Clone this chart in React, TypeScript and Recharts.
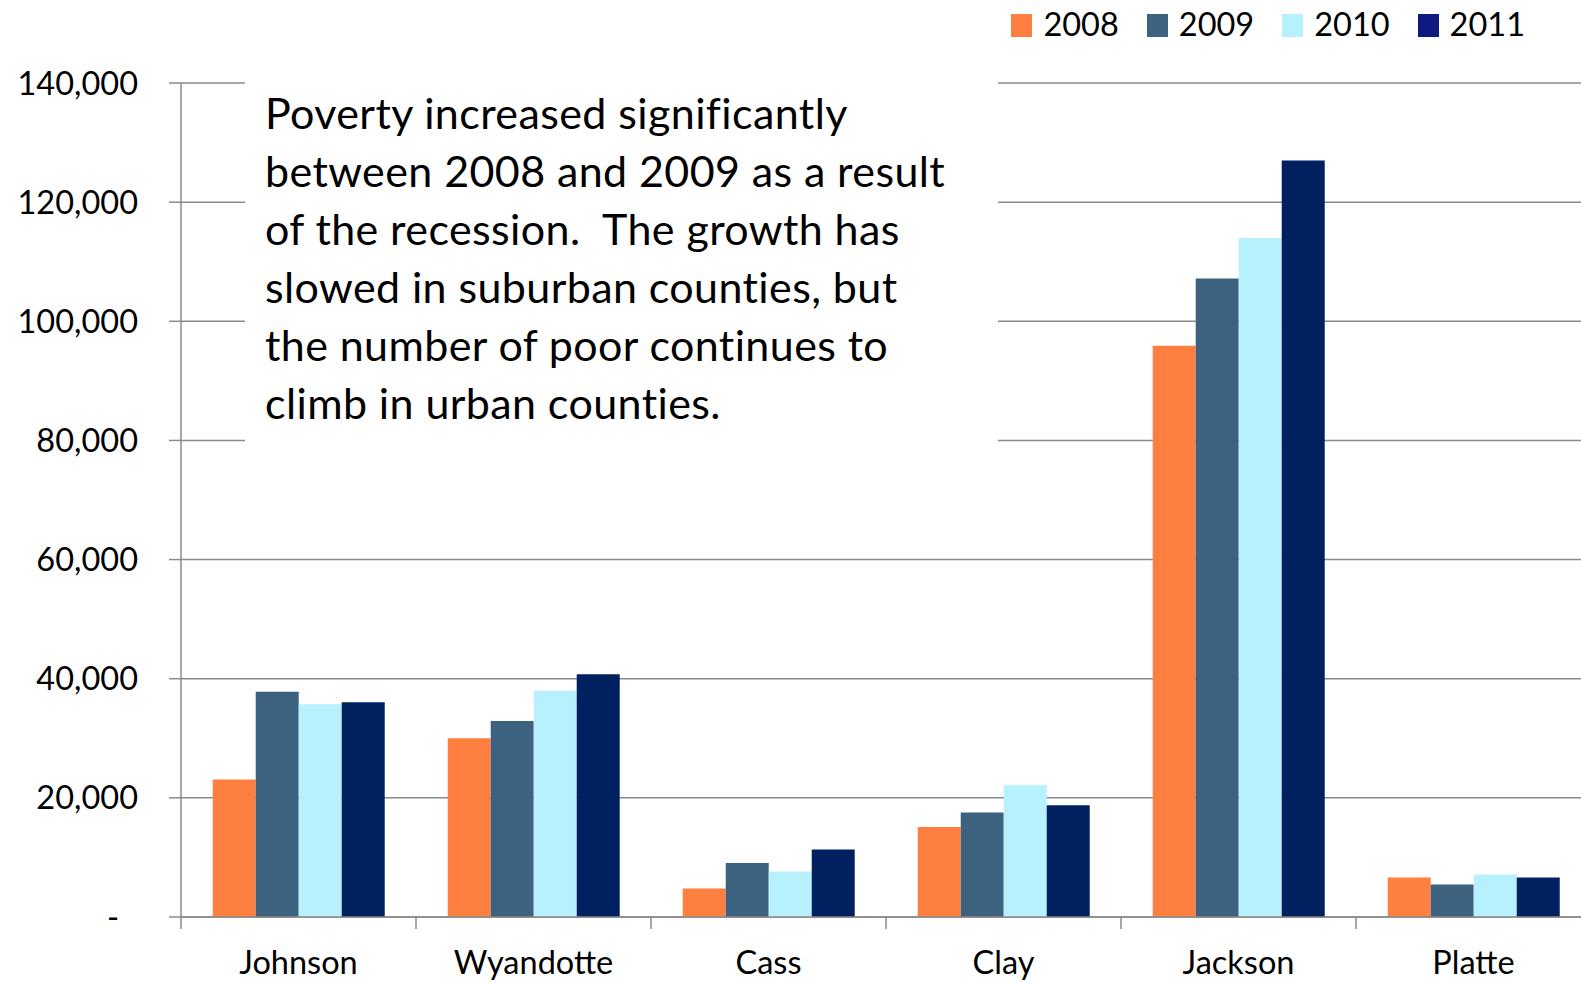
import React from 'react';
import { BarChart, Bar, XAxis, YAxis, CartesianGrid, Legend } from 'recharts';

const counties = ['Johnson', 'Wyandotte', 'Cass', 'Clay', 'Jackson', 'Platte'];
const v2008 = [23100, 30000, 4800, 15100, 95900, 6650];
const v2009 = [37800, 32900, 9050, 17550, 107200, 5450];
const v2010 = [35700, 38000, 7650, 22100, 114000, 7150];
const v2011 = [36050, 40750, 11350, 18750, 127000, 6650];
const years = ['2008', '2009', '2010', '2011'];
const yTicks = [0, 20000, 40000, 60000, 80000, 100000, 120000, 140000];
const noteLines = [
  'Poverty increased significantly',
  'between 2008 and 2009 as a result',
  'of the recession.  The growth has',
  'slowed in suburban counties, but',
  'the number of poor continues to',
  'climb in urban counties.',
];

const barColors = ['#FF7F41', '#3D6280', '#B7F1FD', '#00205F'];
const legendColors = ['#FF7F41', '#3D6280', '#B7F1FD', '#0F1A80'];
const FONT = "Lato, 'Open Sans', sans-serif";
const GRID = '#8a8a8a';
const X_TICK_MARGIN = 34;
const X_TICK_LEN = 12;

const data = counties.map((c, i) => ({
  county: c,
  '2008': v2008[i],
  '2009': v2009[i],
  '2010': v2010[i],
  '2011': v2011[i],
}));

const YTick = (props: any) => {
  const { x, y, payload } = props;
  const isZero = payload.value === 0;
  const label = isZero ? '-' : Number(payload.value).toLocaleString('en-US');
  return (
    <text
      x={isZero ? x - 19 : x}
      y={y}
      dy="0.355em"
      textAnchor="end"
      fill="#000"
      fontFamily={FONT}
      fontSize={32.5}
    >
      {label}
    </text>
  );
};

const XTick = (props: any) => {
  const { x, y, payload, index, visibleTicksCount } = props;
  const half = Number(payload?.offset) || 0;
  const axisY = y - X_TICK_MARGIN;
  const isLast = index === (visibleTicksCount ?? counties.length) - 1;
  return (
    <g>
      {half > 0 && (
        <line
          x1={x - half}
          x2={x - half}
          y1={axisY}
          y2={axisY + X_TICK_LEN}
          stroke={GRID}
          strokeWidth={1.5}
        />
      )}
      {half > 0 && isLast && (
        <line
          x1={x + half}
          x2={x + half}
          y1={axisY}
          y2={axisY + X_TICK_LEN}
          stroke={GRID}
          strokeWidth={1.5}
        />
      )}
      <text
        x={x}
        y={y}
        dy="0.71em"
        textAnchor="middle"
        fill="#000"
        fontFamily={FONT}
        fontSize={32.5}
      >
        {payload.value}
      </text>
    </g>
  );
};

const LegendContent = () => (
  <div
    style={{
      height: 83,
      display: 'flex',
      justifyContent: 'flex-end',
      alignItems: 'flex-start',
      paddingRight: 66,
      paddingTop: 7.5,
      boxSizing: 'border-box',
      fontFamily: FONT,
      fontSize: 32.5,
      color: '#000',
    }}
  >
    {years.map((y, i) => (
      <div
        key={y}
        style={{ display: 'flex', alignItems: 'flex-start', marginLeft: i ? 28 : 0 }}
      >
        <span
          style={{
            display: 'inline-block',
            width: 21,
            height: 23,
            marginTop: 6.5,
            marginRight: 11,
            background: legendColors[i],
          }}
        />
        <span style={{ lineHeight: 1 }}>{y}</span>
      </div>
    ))}
  </div>
);

export default function App() {
  return (
    <div
      style={{
        position: 'absolute',
        left: 0,
        top: 0,
        width: 1581,
        height: 982,
        overflow: 'hidden',
        background: '#fff',
      }}
    >
      <BarChart
        width={1600}
        height={1000}
        data={data}
        margin={{ top: 0, right: 9, bottom: 0, left: 0 }}
        barCategoryGap="13.5%"
        barGap={0}
      >
        <Legend verticalAlign="top" align="right" content={<LegendContent />} />
        <CartesianGrid vertical={false} stroke={GRID} strokeWidth={1.5} />
        <XAxis
          dataKey="county"
          height={83}
          tickLine={false}
          tickSize={0}
          tickMargin={X_TICK_MARGIN}
          axisLine={{ stroke: GRID, strokeWidth: 1.5 }}
          tick={<XTick />}
          interval={0}
        />
        <YAxis
          domain={[0, 140000]}
          ticks={yTicks}
          width={181}
          tickSize={12}
          tickMargin={31}
          axisLine={{ stroke: GRID, strokeWidth: 1.5 }}
          tickLine={{ stroke: GRID, strokeWidth: 1.5 }}
          tick={<YTick />}
          interval={0}
        />
        {years.map((y, i) => (
          <Bar key={y} dataKey={y} fill={barColors[i]} isAnimationActive={false} />
        ))}
      </BarChart>
      <div
        style={{
          position: 'absolute',
          left: 245,
          top: 68,
          width: 753,
          height: 392,
          background: '#fff',
          boxSizing: 'border-box',
          paddingLeft: 20,
          paddingTop: 16,
          fontFamily: FONT,
          fontSize: 43,
          letterSpacing: 0.4,
          lineHeight: '58px',
          color: '#000',
          whiteSpace: 'pre',
        }}
      >
        {noteLines.map((l) => (
          <div key={l}>{l}</div>
        ))}
      </div>
    </div>
  );
}
